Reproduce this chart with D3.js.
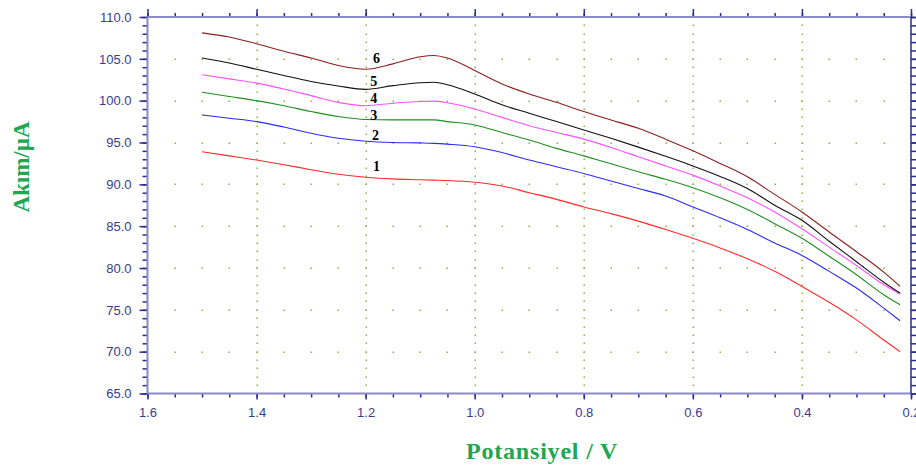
<!DOCTYPE html>
<html><head><meta charset="utf-8">
<script src="https://cdn.jsdelivr.net/npm/d3@7/dist/d3.min.js"></script>
<style>
html,body{margin:0;padding:0;background:#fff;overflow:hidden}
svg{display:block}
</style></head>
<body><svg id="c" width="916" height="467"></svg>
<script>
// ---- data ----
const potentials = [1.50,1.45,1.40,1.35,1.30,1.25,1.20,1.15,1.10,1.075,1.05,1.00,0.95,0.90,0.85,0.80,0.75,0.70,0.65,0.60,0.55,0.50,0.45,0.40,0.35,0.30,0.25,0.22];
const curve1 = [93.9,93.4,92.9,92.35,91.75,91.2,90.85,90.65,90.55,90.5,90.45,90.25,89.8,89.0,88.2,87.3,86.5,85.6,84.6,83.55,82.4,81.1,79.6,77.8,75.9,73.8,71.4,70.0];
const curve2 = [98.3,97.9,97.5,96.85,96.1,95.5,95.15,95.0,94.95,94.9,94.8,94.5,93.8,92.9,92.1,91.3,90.4,89.5,88.6,87.3,86.0,84.6,83.0,81.5,79.6,77.6,75.2,73.7];
const curve3 = [101.0,100.5,100.0,99.4,98.7,98.1,97.75,97.7,97.7,97.7,97.5,97.1,96.2,95.3,94.3,93.4,92.45,91.5,90.6,89.6,88.4,87.0,85.3,83.55,81.4,79.2,76.8,75.6];
const curve4 = [103.1,102.6,102.1,101.4,100.6,99.8,99.4,99.7,99.9,99.95,99.75,99.0,98.0,97.0,96.2,95.4,94.4,93.3,92.2,91.1,89.8,88.4,86.7,84.7,82.5,80.3,78.0,76.9];
const curve5 = [105.1,104.5,103.75,103.0,102.3,101.75,101.35,101.8,102.15,102.2,101.9,100.8,99.5,98.5,97.5,96.5,95.5,94.45,93.35,92.2,90.95,89.5,87.5,85.7,83.2,80.75,78.3,77.0];
const curve6 = [108.1,107.6,106.8,105.9,105.1,104.2,103.75,104.4,105.25,105.4,105.1,103.6,102.0,100.8,99.8,98.7,97.7,96.7,95.4,94.0,92.5,90.9,88.8,86.7,84.3,81.95,79.5,77.8];
const seriesNames = ["1","2","3","4","5","6"];
const seriesColors = ["#ff2a2a","#2a2aff","#1f8f1f","#ff50ff","#111111","#8b1f1f"];
const labelX = [1.18,1.182,1.185,1.185,1.185,1.18];
const labelY = [92.1,95.8,98.25,100.2,102.35,105.06];
const xTicks = [1.6,1.4,1.2,1.0,0.8,0.6,0.4,0.2];
const yTicks = [65,70,75,80,85,90,95,100,105,110];
const xTitle = "Potansiyel / V";
const yTitle = "Akım/µA";

const allSeries = [curve1,curve2,curve3,curve4,curve5,curve6];

// ---- scales ----
const svg = d3.select("#c");
const x = d3.scaleLinear().domain([1.6,0.2]).range([147.5,911]);
const y = d3.scaleLinear().domain([65,110]).range([393.5,17]);

const axisLineColor = "#8a8ac6";
const tickColor = "#2b2b96";
const labelColor = "#3a3a90";
const gridColor = "#8fb24a";

// grid dots
const gx = svg.append("g");
const minorX = d3.range(0,29).map(i => +(1.6 - i*0.05).toFixed(2)).filter(v=>v>0.2 && v<1.6);
const minorY = d3.range(0,46).map(i => 65 + i).filter(v=>v>65 && v<110);
const majorX = xTicks.filter(v=>v>0.2 && v<1.6);
const majorY = yTicks.filter(v=>v>65 && v<110);
majorY.forEach(yv => {
  minorX.forEach(xv => {
    gx.append("rect").attr("x", Math.round(x(xv))-0.5).attr("y", Math.round(y(yv))-0.5)
      .attr("width",1.5).attr("height",1.5).attr("fill",gridColor);
  });
});
majorX.forEach(xv => {
  minorY.forEach(yv => {
    gx.append("rect").attr("x", Math.round(x(xv))-0.5).attr("y", Math.round(y(yv))-0.5)
      .attr("width",1.5).attr("height",1.5).attr("fill",gridColor);
  });
});

// axes
function styleAxis(g){
  g.select(".domain").remove();
  g.selectAll(".tick line").attr("stroke",tickColor).attr("stroke-width",1.5);
  g.selectAll(".tick text").attr("fill",labelColor).attr("font-family","'Liberation Sans', Arial, sans-serif").attr("font-size","13px");
}
const minorXAll = d3.range(0,29).map(i => +(1.6 - i*0.05).toFixed(2));
const minorYAll = d3.range(0,46).map(i => 65 + i);

// bottom
const bMinor = svg.append("g").attr("transform",`translate(0,${y(65)})`)
  .call(d3.axisBottom(x).tickValues(minorXAll).tickSize(4).tickFormat(""));
styleAxis(bMinor);
const bMajor = svg.append("g").attr("transform",`translate(0,${y(65)})`)
  .call(d3.axisBottom(x).tickValues(xTicks).tickSize(6).tickPadding(8).tickFormat(d3.format(".1f")));
styleAxis(bMajor);
// top
const tMinor = svg.append("g").attr("transform",`translate(0,${y(110)})`)
  .call(d3.axisTop(x).tickValues(minorXAll).tickSize(4).tickFormat(""));
styleAxis(tMinor);
const tMajor = svg.append("g").attr("transform",`translate(0,${y(110)})`)
  .call(d3.axisTop(x).tickValues(xTicks).tickSize(8).tickFormat(""));
styleAxis(tMajor);
// left
const lMinor = svg.append("g").attr("transform",`translate(${x(1.6)},0)`)
  .call(d3.axisLeft(y).tickValues(minorYAll).tickSize(5).tickFormat(""));
styleAxis(lMinor);
const lMajor = svg.append("g").attr("transform",`translate(${x(1.6)},0)`)
  .call(d3.axisLeft(y).tickValues(yTicks).tickSize(8).tickPadding(8).tickFormat(d3.format(".1f")));
styleAxis(lMajor);
// right
const rMinor = svg.append("g").attr("transform",`translate(${x(0.2)},0)`)
  .call(d3.axisRight(y).tickValues(minorYAll).tickSize(5).tickFormat(""));
styleAxis(rMinor);
const rMajor = svg.append("g").attr("transform",`translate(${x(0.2)},0)`)
  .call(d3.axisRight(y).tickValues(yTicks).tickSize(8).tickFormat(""));
styleAxis(rMajor);

// frame lines
svg.append("line").attr("x1",x(1.6)).attr("x2",x(0.2)).attr("y1",y(65)).attr("y2",y(65)).attr("stroke",axisLineColor).attr("stroke-width",2);
svg.append("line").attr("x1",x(1.6)).attr("x2",x(0.2)).attr("y1",y(110)).attr("y2",y(110)).attr("stroke",axisLineColor).attr("stroke-width",2);
svg.append("line").attr("x1",x(1.6)).attr("x2",x(1.6)).attr("y1",y(110)).attr("y2",y(65)).attr("stroke",axisLineColor).attr("stroke-width",2);
svg.append("line").attr("x1",x(0.2)).attr("x2",x(0.2)).attr("y1",y(110)).attr("y2",y(65)).attr("stroke","#2b2b96").attr("stroke-width",1.5);

// curves
const line = d3.line().x((d,i)=>x(potentials[i])).y(d=>y(d)).curve(d3.curveMonotoneX);
allSeries.forEach((s,k) => {
  svg.append("path").datum(s).attr("d",line).attr("fill","none")
    .attr("stroke",seriesColors[k]).attr("stroke-width",1.1);
});

// curve labels
seriesNames.forEach((n,k) => {
  svg.append("text").attr("x",x(labelX[k])).attr("y",y(labelY[k]))
    .attr("text-anchor","middle").attr("dominant-baseline","central")
    .attr("font-family","'Liberation Serif','Times New Roman',serif").attr("font-weight","bold")
    .attr("font-size","14px").attr("fill","#000").text(n);
});

// titles
svg.append("text").attr("x",466).attr("y",459)
  .attr("font-family","'Liberation Serif','Times New Roman',serif").attr("font-weight","bold")
  .attr("font-size","24px").attr("letter-spacing","0.8px").attr("fill","#20a650").text(xTitle);
svg.append("text").attr("transform","translate(29,167) rotate(-90)").attr("text-anchor","middle")
  .attr("font-family","'Liberation Serif','Times New Roman',serif").attr("font-weight","bold")
  .attr("font-size","23px").attr("fill","#20a650").text(yTitle);
</script>
</body></html>
